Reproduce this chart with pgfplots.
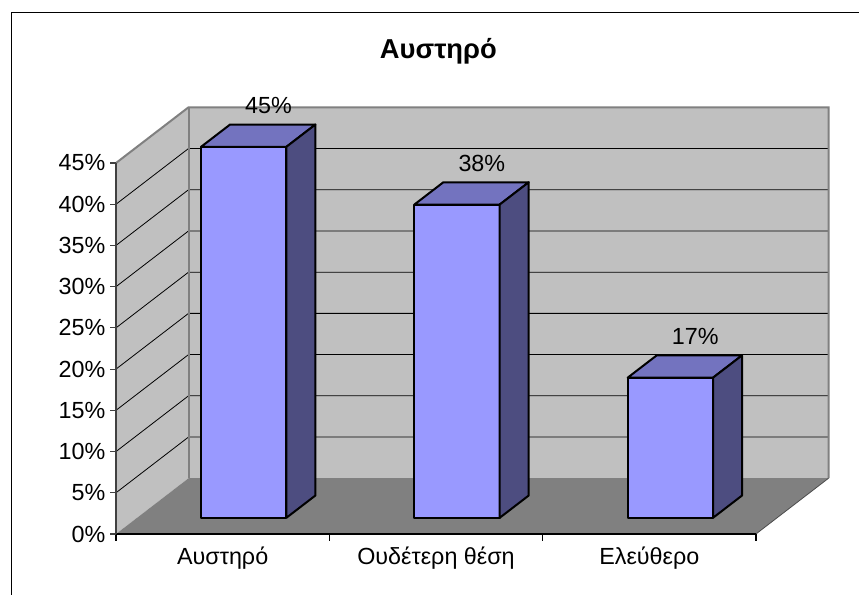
\documentclass[border=0pt]{standalone}
\usepackage{pgfplots}
\usepackage{pgfplotstable}
\pgfplotsset{compat=1.18}
\usepackage{fontspec}
\setmainfont{Liberation Sans}

\definecolor{frontc}{HTML}{9999FF}
\definecolor{topc}{HTML}{7373BF}
\definecolor{sidec}{HTML}{4D4D80}
\definecolor{wallc}{HTML}{C0C0C0}
\definecolor{floorc}{HTML}{808080}
\definecolor{edgec}{HTML}{808080}

\pgfplotstableread{
x v
0.5 45
1.5 38
2.5 17
}\data

\def\DX{0.34}\def\DY{6.76}
\def\FA{0.29}\def\FB{0.69}

\begin{document}
\begin{tikzpicture}
\begin{axis}[
  x=160pt, y=6.183pt,
  xmin=0, xmax=3, ymin=0, ymax=45,
  clip=false, axis on top,
  axis x line*=bottom, axis y line*=left,
  x axis line style={black, line width=0.8pt},
  y axis line style={black!75, line width=0.8pt},
  /pgf/number format/assume math mode=true,
  tick align=outside,
  major tick length=4.5pt,
  minor tick length=5.25pt,
  ytick={0,5,...,45},
  yticklabel={\pgfmathprintnumber{\tick}\%},
  yticklabel style={font=\fontsize{17.5}{20}\selectfont},
  y tick style={black!75, line width=0.8pt},
  xtick={0.5,1.5,2.5},
  xticklabels={Αυστηρό, Ουδέτερη θέση, Ελεύθερο},
  major x tick style={draw=none},
  minor xtick={0,1,2,3},
  minor x tick style={black, line width=0.8pt},
  xticklabel style={font=\fontsize{17.5}{20}\selectfont, yshift=-2pt},
]
% back wall, left wall, floor
\addplot[fill=wallc, draw=none] coordinates {(0.34,6.76) (3.34,6.76) (3.34,51.76) (0.34,51.76)} --cycle;
\addplot[fill=wallc, draw=none] coordinates {(0,0) (0.34,6.76) (0.34,51.76) (0,45)} --cycle;
\addplot[fill=floorc, draw=none] coordinates {(0,0) (3,0) (3.34,6.76) (0.34,6.76)} --cycle;
% gridlines
\pgfplotsinvokeforeach{5,10,15,20,25,30,35,40}{
  \pgfmathsetmacro\gy{#1+\DY}
  \addplot[black, line width=0.6pt] coordinates {(0,#1) (0.34,\gy) (3.34,\gy)};
}
% wall edges
\addplot[edgec, line width=1.5pt] coordinates {(0,45) (0.34,51.76) (3.34,51.76) (3.34,6.76)};
\addplot[edgec, line width=1.5pt] coordinates {(0.34,51.76) (0.34,6.76)};
\addplot[black!70, line width=0.6pt] coordinates {(3,0) (3.34,6.76)};
% bars
\pgfplotsinvokeforeach{0,1,2}{
  \pgfplotstablegetelem{#1}{x}\of\data \let\cx\pgfplotsretval
  \pgfplotstablegetelem{#1}{v}\of\data \let\cv\pgfplotsretval
  \pgfmathsetmacro\xa{\cx-0.2+\FA*\DX}
  \pgfmathsetmacro\xb{\cx+0.2+\FA*\DX}
  \pgfmathsetmacro\ya{\FA*\DY}
  \pgfmathsetmacro\yt{\cv+\FA*\DY}
  \pgfmathsetmacro\ddx{(\FB-\FA)*\DX}
  \pgfmathsetmacro\ddy{(\FB-\FA)*\DY}
  \pgfmathsetmacro\xap{\xa+\ddx}
  \pgfmathsetmacro\xbp{\xb+\ddx}
  \pgfmathsetmacro\yap{\ya+\ddy}
  \pgfmathsetmacro\ytp{\yt+\ddy}
  \addplot[fill=frontc, draw=black, line width=1.5pt, line join=round] coordinates {(\xa,\ya) (\xb,\ya) (\xb,\yt) (\xa,\yt)} --cycle;
  \addplot[fill=topc, draw=black, line width=1.5pt, line join=round] coordinates {(\xa,\yt) (\xb,\yt) (\xbp,\ytp) (\xap,\ytp)} --cycle;
  \addplot[fill=sidec, draw=black, line width=1.5pt, line join=round] coordinates {(\xb,\ya) (\xbp,\yap) (\xbp,\ytp) (\xb,\yt)} --cycle;
}
% data labels
\addplot[draw=none, mark=none, point meta=explicit,
  nodes near coords={\pgfmathprintnumber{\pgfplotspointmeta}\%},
  every node near coord/.append style={anchor=center, inner sep=0pt, font=\fontsize{17.5}{20}\selectfont}]
  table[x expr=\thisrow{x}+0.215, y expr=\thisrow{v}+7, meta=v] {\data};
% title
\node[font=\fontsize{20.5}{24}\selectfont\bfseries] at (axis cs:1.511,58.5) {Αυστηρό};
\coordinate (bbsw) at (axis cs:-0.5438,-7.399);
\coordinate (bbne) at (axis cs:3.4829,64.774);
\coordinate (frsw) at (axis cs:-0.4922,-7.399);
\coordinate (frnw) at (axis cs:-0.4922,63.2);
\coordinate (frne) at (axis cs:3.4829,63.2);
\end{axis}
\pgfresetboundingbox
\useasboundingbox (bbsw) rectangle (bbne);
\draw[line width=0.75pt] (frsw) -- (frnw) -- (frne);
\end{tikzpicture}
\end{document}
